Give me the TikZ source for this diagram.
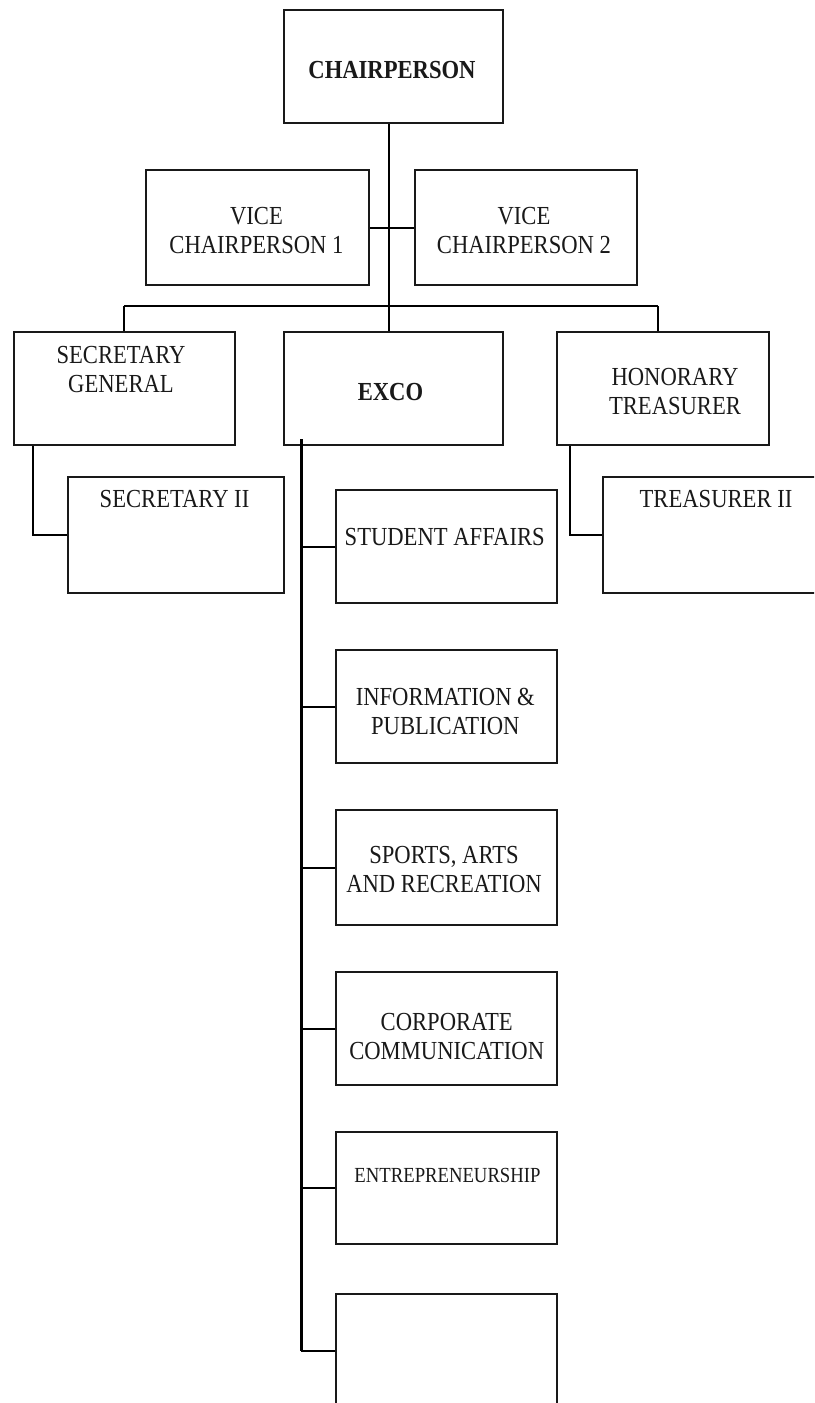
\documentclass[tikz,border=0pt]{standalone}
\usepackage{fontspec}
\setmainfont{Liberation Serif}[FakeStretch=0.87]
\begin{document}
\begin{tikzpicture}[x=1pt,y=-1pt,
  box/.style={draw=black!90, line width=2.2pt, inner sep=0pt, anchor=north west, fill=white},
  lbl/.style={inner sep=0pt, align=center, text=black!90, font=\fontsize{26}{29}\selectfont},
  small/.style={inner sep=0pt, align=center, text=black!90, font=\fontsize{21.5}{25}\selectfont},
  conn/.style={draw=black, line width=2.2pt},
  trunk/.style={draw=black, line width=3pt}]
\useasboundingbox (0,0) rectangle (814,1403);
\clip (0,0) rectangle (814,1403);
% boxes
\node[box, minimum width=219pt, minimum height=113pt] (chair) at (283,9) {};
\node[box, minimum width=223pt, minimum height=115pt] (v1) at (145,169) {};
\node[box, minimum width=222pt, minimum height=115pt] (v2) at (414,169) {};
\node[box, minimum width=221pt, minimum height=113pt] (sg) at (13,331) {};
\node[box, minimum width=219pt, minimum height=113pt] (exco) at (283,331) {};
\node[box, minimum width=212pt, minimum height=113pt] (hon) at (556,331) {};
\node[box, minimum width=216pt, minimum height=116pt] (s2) at (67,476) {};
\node[box, minimum width=228pt, minimum height=116pt] (t2) at (602,476) {};
\node[box, minimum width=221pt, minimum height=113pt] (b1) at (335,489) {};
\node[box, minimum width=221pt, minimum height=113pt] (b2) at (335,649) {};
\node[box, minimum width=221pt, minimum height=115pt] (b3) at (335,809) {};
\node[box, minimum width=221pt, minimum height=113pt] (b4) at (335,971) {};
\node[box, minimum width=221pt, minimum height=112pt] (b5) at (335,1131) {};
\node[box, minimum width=221pt, minimum height=113pt] (b6) at (335,1293) {};
% labels
\node[lbl] (chairT) at (392,70.5) {\textbf{CHAIRPERSON}};
\node[lbl] (v1T) at (256.5,231) {VICE\\CHAIRPERSON 1};
\node[lbl] (v2T) at (524,231) {VICE\\CHAIRPERSON 2};
\node[lbl] (sgT) at (121,370) {SECRETARY\\GENERAL};
\node[lbl] (excoT) at (390.5,392.5) {\textbf{EXCO}};
\node[lbl] (honT) at (675,392) {HONORARY\\TREASURER};
\node[lbl] (s2T) at (174.5,499) {SECRETARY II};
\node[lbl] (t2T) at (716,499) {TREASURER II};
\node[lbl] (b1T) at (444.7,537.5) {STUDENT AFFAIRS};
\node[lbl] (b2T) at (445.3,711) {INFORMATION \&\\PUBLICATION};
\node[lbl] (b3T) at (444,870) {SPORTS, ARTS\\AND RECREATION};
\node[lbl] (b4T) at (446.7,1036.5) {CORPORATE\\COMMUNICATION};
\node[small] (b5T) at (447.5,1175.5) {ENTREPRENEURSHIP};
% connector coordinates
\coordinate (bL) at (124,306);
\coordinate (bM) at (389,306);
\coordinate (bR) at (658,306);
\coordinate (sgx) at (33,0);
\coordinate (trx) at (570,0);
\coordinate (et) at (301,439);
% connectors
\draw[conn] (chair.south -| bM) -- (bM);
\draw[conn] (v1.east) -- (v2.west);
\draw[conn] (bL) -- (bR);
\draw[conn] (bL) -- (bL |- sg.north);
\draw[conn] (bM) -- (bM |- exco.north);
\draw[conn] (bR) -- (bR |- hon.north);
\draw[conn] (sg.south -| sgx) |- (s2.west);
\draw[conn] (hon.south -| trx) |- (t2.west);
\draw[trunk] (et) -- (et |- b6.west);
\foreach \b in {b1,b2,b3,b4,b5,b6}{
  \draw[conn] (et |- \b.west) -- (\b.west);
}
\end{tikzpicture}
\end{document}
